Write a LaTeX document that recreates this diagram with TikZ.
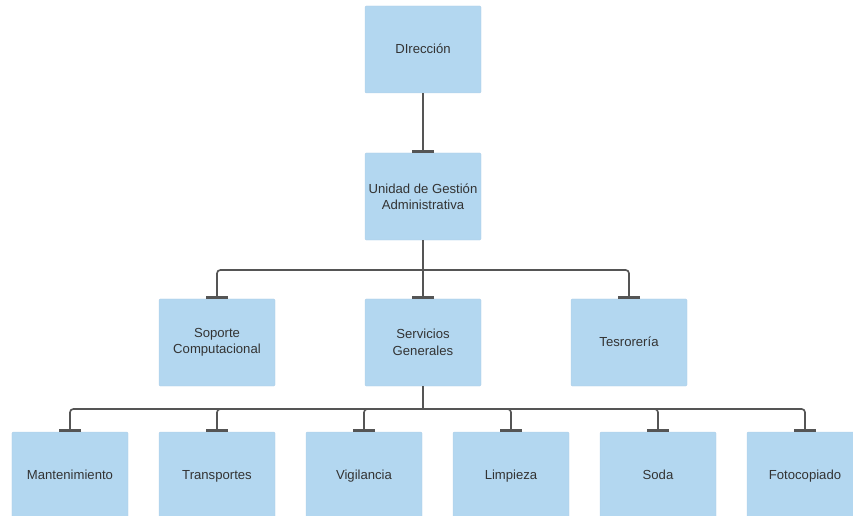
\documentclass[tikz,border=0pt]{standalone}
\usepackage{fontspec}
\setmainfont{Liberation Sans}
\usetikzlibrary{arrows.meta}

\definecolor{cajaazul}{HTML}{B3D7F0}
\definecolor{linea}{HTML}{555555}
\definecolor{texto}{HTML}{333333}

\tikzset{
  caja/.style={fill=cajaazul, draw=cajaazul!90!gray, line width=0.3pt, rounded corners=1pt,
    minimum width=3.48cm, minimum height=2.61cm, inner sep=2pt,
    align=center, text=texto, font=\fontsize{11.2}{14}\selectfont},
  cajasola/.style={caja, text height=1.7ex, text depth=0.5ex},
  enlace/.style={draw=linea, line width=1.4pt, rounded corners=0.1cm,
    -{Bar[width=0.66cm, line width=2.2pt]}},
  tronco/.style={draw=linea, line width=1.4pt}
}

\begin{document}
\begin{tikzpicture}[x=0.03cm, y=-0.03cm]
        \useasboundingbox (0,0) rectangle (853,516);

        \node [cajasola] (direccion) at (423,49.5) {DIrección};
        \node [caja] (unidad) at (423,196.5) {Unidad de Gestión\\Administrativa};

        \node [caja] (soporte) at (217,342.5) {Soporte\\Computacional};
        \node [caja] (servicios) at (423,342.5) {Servicios\\Generales};
        \node [cajasola] (tesoreria) at (629,342.5) {Tesrorería};

        \node [cajasola] (mant) at (70,475.5) {Mantenimiento};
        \node [cajasola] (transp) at (217,475.5) {Transportes};
        \node [cajasola] (vigil) at (364,475.5) {Vigilancia};
        \node [cajasola] (limp) at (511,475.5) {Limpieza};
        \node [cajasola] (soda) at (658,475.5) {Soda};
        \node [cajasola] (foto) at (805,475.5) {Fotocopiado};

        \draw [enlace] (direccion.south) -- (unidad.north);

        \coordinate (bus1) at (423,270);
        \draw [tronco] (unidad.south) -- (bus1);
        \draw [enlace] (bus1) -| (soporte.north);
        \draw [enlace] (bus1) -- (servicios.north);
        \draw [enlace] (bus1) -| (tesoreria.north);

        \coordinate (bus2) at (423,409);
        \draw [tronco] (servicios.south) -- (bus2);
        \foreach \hoja in {mant, transp, vigil, limp, soda, foto}
          \draw [enlace] (bus2) -| (\hoja.north);
      \end{tikzpicture}
\end{document}
